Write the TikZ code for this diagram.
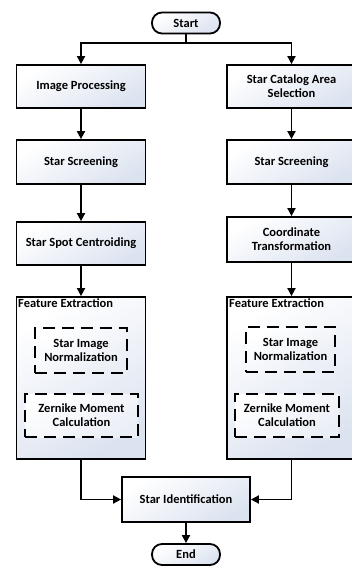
\documentclass[tikz,border=0pt]{standalone}
\usepackage{fontspec}
\setmainfont{Carlito}
\usetikzlibrary{arrows.meta}
\definecolor{fillb}{HTML}{DCE3F0}
\tikzset{
  txt/.style={font=\bfseries\fontsize{12.5}{14}\selectfont},
  box/.style={txt, draw=black, line width=1.8pt, minimum width=129pt, inner sep=0pt, align=center,
    shading=axis, top color=white, bottom color=fillb, shading angle=30},
  term/.style={txt, draw=black, line width=1.8pt, rounded corners=10pt, minimum width=68pt, minimum height=21pt,
    inner sep=0pt, shading=axis, top color=white, bottom color=fillb, shading angle=30},
  dbox/.style={txt, draw=black, line width=1.8pt, dash pattern=on 12pt off 7pt, inner sep=0pt, align=center,
    shading=axis, top color=white, bottom color=fillb!60, shading angle=30},
  lbl/.style={txt, inner sep=0pt, anchor=north west},
  arr/.style={line width=1.8pt, -{Triangle[width=8pt,length=8pt]}},
}
\begin{document}
\begin{tikzpicture}[x=1pt,y=-1pt]
\useasboundingbox (0,0) rectangle (351,568);
\node[term] (start) at (186,23) {Start};
\node[box, minimum height=43pt] (l1) at (81,86.5) {Image Processing};
\node[box, minimum height=43pt] (r1) at (291.5,86.5) {Star Catalog Area\\Selection};
\node[box, minimum height=44pt] (l2) at (81,162) {Star Screening};
\node[box, minimum height=44pt] (r2) at (291.5,162) {Star Screening};
\node[box, minimum height=43pt] (l3) at (81,243.5) {Star Spot Centroiding};
\node[box, minimum height=45pt] (r3) at (291.5,239.5) {Coordinate\\Transformation};
\node[box, minimum height=162pt] (lf) at (81,378) {};
\node[box, minimum height=162pt] (rf) at (291.5,378) {};
\node[lbl] (lft) at (18,299) {Feature Extraction};
\node[lbl] (rft) at (229,299) {Feature Extraction};
\node[dbox, minimum width=92pt, minimum height=45pt] (ln) at (81,350.5) {Star Image\\Normalization};
\node[dbox, minimum width=113pt, minimum height=43pt] (lz) at (81.5,415.5) {Zernike Moment\\Calculation};
\node[dbox, minimum width=89pt, minimum height=45pt] (rn) at (290.5,349.5) {Star Image\\Normalization};
\node[dbox, minimum width=104pt, minimum height=43pt] (rz) at (287,415.5) {Zernike Moment\\Calculation};
\node[box, minimum width=128pt, minimum height=45pt] (si) at (186,499.5) {Star Identification};
\node[term] (end) at (186,554.5) {End};
\coordinate (split) at (186,43);
\draw[line width=1.8pt] (start.south) -- (split);
\draw[arr] (split) -| (l1.north);
\draw[arr] (split) -| (r1.north);
\draw[arr] (l1) -- (l2);
\draw[arr] (r1) -- (r2);
\draw[arr] (l2) -- (l3);
\draw[arr] (r2) -- (r3);
\draw[arr] (l3) -- (lf);
\draw[arr] (r3) -- (rf);
\draw[arr] (lf.south) |- (si.west);
\draw[arr] (rf.south) |- (si.east);
\draw[arr] (si) -- (end);
\end{tikzpicture}
\end{document}
